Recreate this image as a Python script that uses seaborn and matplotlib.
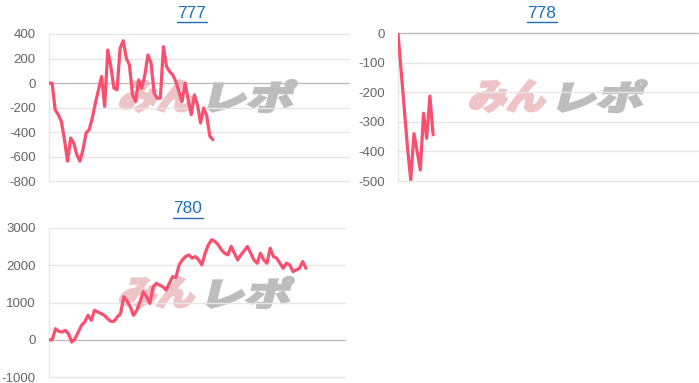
import numpy as np
import pandas as pd
import seaborn as sns
import matplotlib
matplotlib.use("Agg")
import matplotlib.pyplot as plt
from matplotlib.textpath import TextPath
from matplotlib.patches import PathPatch
from matplotlib.font_manager import FontProperties
from matplotlib.transforms import Affine2D, IdentityTransform

# ---- data ----
titles = ["777", "778", "780"]
n_slots = [98, 95, 92]  # x positions on each chart

vals_777 = [0, 0, -216, -257, -311, -460, -635, -446, -486, -581, -635, -540,
            -405, -378, -284, -162, -54, 54, -189, 270, 135, -40, -54, 284,
            346, 203, 149, -95, -149, 27, -40, 68, 230, 162, -81, -122, -122,
            297, 135, 95, 68, 14, -68, -149, 0, -135, -257, -95, -176, -324,
            -203, -265, -432, -460]
vals_778 = [0, -130, -260, -390, -497, -340, -400, -463, -271, -356, -213, -344]
vals_780 = [0, 0, 297, 225, 207, 252, 162, -63, 27, 207, 387, 477, 657, 522,
            793, 748, 703, 657, 567, 495, 495, 612, 703, 1153, 1036, 883, 657,
            793, 1018, 1288, 1153, 973, 1423, 1514, 1468, 1423, 1333, 1514,
            1694, 1667, 2009, 2144, 2234, 2279, 2189, 2234, 2144, 2009, 2324,
            2550, 2685, 2640, 2550, 2414, 2324, 2279, 2505, 2324, 2144, 2279,
            2387, 2505, 2324, 2144, 2054, 2324, 2144, 2054, 2459, 2234, 2189,
            2054, 1919, 2054, 2009, 1829, 1874, 1919, 2099, 1919]
series = [vals_777, vals_778, vals_780]

ylims = [(-800, 400), (-500, 0), (-1000, 3000)]
ysteps = [200, 100, 1000]

# ---- style ----
sns.set_theme(style="white")
plt.rcParams["font.family"] = ["Liberation Sans", "DejaVu Sans"]

W, H = 699, 383
fig = plt.figure(figsize=(W / 100, H / 100), dpi=100)

# axes boxes in pixels: left, right, top, bottom
boxes = [(49, 349, 34, 181.5), (398, 698, 33, 181), (49, 345, 228, 377)]
title_pos = [(192, 13), (541.5, 13), (188, 208.5)]

line_color = "#fb4f6f"
grid_color = "#e6e6e6"
zero_color = "#bdbdbd"
title_color = "#1f6fbf"

def add_watermark(x0, x1, y_top, y_bot, text, color):
    fp = FontProperties(family="Noto Sans CJK JP", weight="black")
    tp = TextPath((0, 0), text, size=100, prop=fp)
    ext = tp.get_extents()
    wpx = x1 - x0
    hpx = y_bot - y_top
    sx = wpx / ext.width * 0.9
    sy = hpx / ext.height
    path = Affine2D().translate(-ext.x0, -ext.y0).scale(sx, sy).transform_path(tp)
    path = Affine2D().skew_deg(14, 0).transform_path(path)
    e2 = path.get_extents()
    path = Affine2D().translate(x0 - e2.x0, (H - y_bot) - e2.y0).transform_path(path)
    patch = PathPatch(path, facecolor=color, edgecolor=color, lw=1.6,
                      transform=IdentityTransform(), zorder=-1)
    fig.patches.append(patch)

for i, (vals, title) in enumerate(zip(series, titles)):
    l, r, t, b = boxes[i]
    ax = fig.add_axes([l / W, 1 - b / H, (r - l) / W, (b - t) / H])
    ax.set_facecolor("none")
    ns = n_slots[i]
    full = vals + [np.nan] * (ns - len(vals))
    df = pd.DataFrame({"x": np.arange(ns), "y": full})
    sns.lineplot(data=df, x="x", y="y", ax=ax, color=line_color, lw=2.3,
                 zorder=5)
    lo, hi = ylims[i]
    ax.set_ylim(lo, hi)
    ax.set_xlim(0, ns - 1)
    ticks = np.arange(lo, hi + 1, ysteps[i])
    ax.set_yticks(ticks)
    ax.set_yticklabels([str(int(v)) for v in ticks])
    ax.set_xticks([])
    ax.set_xlabel("")
    ax.set_ylabel("")
    for v in ticks:
        ax.axhline(v, color=zero_color if v == 0 else grid_color,
                   lw=1.0, zorder=1, clip_on=False)
    for s in ["top", "right", "bottom"]:
        ax.spines[s].set_visible(False)
    ax.spines["left"].set_color(grid_color)
    ax.spines["left"].set_linewidth(1.0)
    ax.tick_params(axis="y", length=6, width=1.0, color=grid_color,
                   labelcolor="#666666", labelsize=9.5, pad=3.5)
    tx, ty = title_pos[i]
    fig.text(tx / W, 1 - ty / H, title, ha="center", va="center",
             fontsize=12.5, color=title_color)
    tw = 30
    fig.add_artist(plt.Line2D([(tx - tw / 2) / W, (tx + tw / 2) / W],
                              [1 - (ty + 9) / H, 1 - (ty + 9) / H],
                              color=title_color, lw=1.0))

# watermark "みんレポ"
wm = [(120, 203, 208, 300, 80, 112), (470, 553, 558, 650, 80, 112),
      (120, 202, 207, 297, 277, 308)]
for (a0, a1, b0, b1, yt, yb) in wm:
    add_watermark(a0, a1, yt, yb, "みん", "#efc4c6")
    add_watermark(b0, b1, yt, yb, "レポ", "#bdbdbd")

fig.savefig("out.png", dpi=100)
